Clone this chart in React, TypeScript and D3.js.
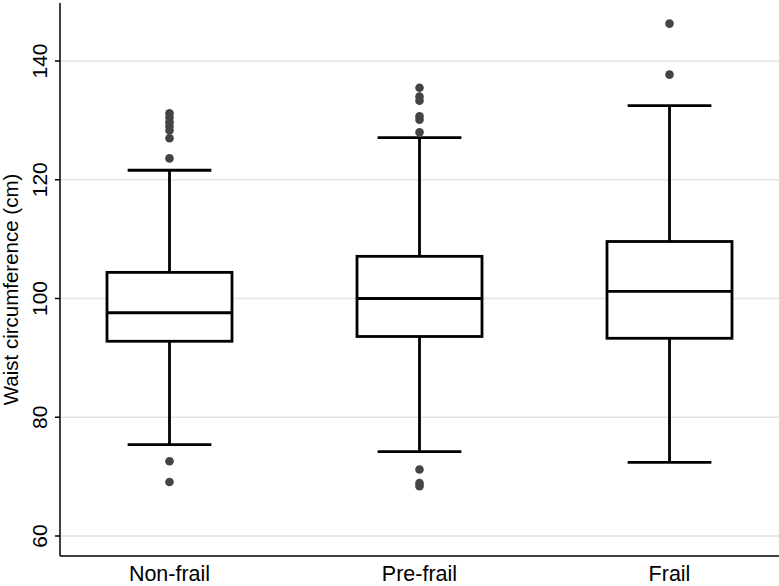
import React from "react";
import * as d3 from "d3";

const categories = ["Non-frail", "Pre-frail", "Frail"];
const lowerWhisker = [75.4, 74.2, 72.4];
const q1 = [92.8, 93.6, 93.3];
const medians = [97.6, 100.0, 101.2];
const q3 = [104.4, 107.1, 109.6];
const upperWhisker = [121.6, 127.1, 132.5];
const outliersNonFrail = [131.2, 130.5, 129.7, 129.0, 128.3, 127.0, 123.6, 72.6, 69.1];
const outliersPreFrail = [135.5, 134.0, 133.3, 130.7, 130.1, 128.0, 71.2, 68.9, 68.4];
const outliersFrail = [146.3, 137.7];
const yTicks = [60, 80, 100, 120, 140];
const yTitle = "Waist circumference (cm)";

const W = 779;
const H = 586;
const left = 60;
const right = 779;
const bottom = 556;
const top = 3;

export default function App() {
  const x = d3.scalePoint<string>().domain(categories).range([left, right]).padding(0.438);
  const step = x.step();
  const y = d3.scaleLinear().domain([60, 140]).range([536, 61]);
  const boxW = step * 0.5;
  const capW = step * 0.335;
  const outliers = [outliersNonFrail, outliersPreFrail, outliersFrail];
  const font = "'Liberation Sans', Arial, sans-serif";
  const sw = 2.8;

  return (
    <svg width={W} height={H} style={{ position: "absolute", left: 0, top: 0 }}>
      <rect width={W} height={H} fill="#fff" />
      {yTicks.map((t) => (
        <line key={"g" + t} x1={left} x2={right} y1={y(t)} y2={y(t)} stroke="#e3e3e3" strokeWidth={1.5} />
      ))}
      {categories.map((c, i) => {
        const cx = x(c)!;
        return (
          <g key={c}>
            <line x1={cx} x2={cx} y1={y(q3[i])} y2={y(upperWhisker[i])} stroke="#000" strokeWidth={sw} />
            <line x1={cx} x2={cx} y1={y(q1[i])} y2={y(lowerWhisker[i])} stroke="#000" strokeWidth={sw} />
            <line x1={cx - capW / 2} x2={cx + capW / 2} y1={y(upperWhisker[i])} y2={y(upperWhisker[i])} stroke="#000" strokeWidth={sw} />
            <line x1={cx - capW / 2} x2={cx + capW / 2} y1={y(lowerWhisker[i])} y2={y(lowerWhisker[i])} stroke="#000" strokeWidth={sw} />
            <rect x={cx - boxW / 2} y={y(q3[i])} width={boxW} height={y(q1[i]) - y(q3[i])} fill="#fff" stroke="#000" strokeWidth={sw} />
            <line x1={cx - boxW / 2} x2={cx + boxW / 2} y1={y(medians[i])} y2={y(medians[i])} stroke="#000" strokeWidth={sw} />
            {outliers[i].map((v, j) => (
              <circle key={j} cx={cx} cy={y(v)} r={4.3} fill="#444" />
            ))}
          </g>
        );
      })}
      <line x1={left} x2={left} y1={top} y2={bottom} stroke="#000" strokeWidth={1.5} />
      <line x1={left} x2={right} y1={bottom} y2={bottom} stroke="#000" strokeWidth={1.5} />
      {yTicks.map((t) => (
        <g key={"t" + t}>
          <line x1={left - 5} x2={left} y1={y(t)} y2={y(t)} stroke="#000" strokeWidth={1.5} />
          <text
            transform={`translate(${left - 13},${y(t)}) rotate(-90)`}
            textAnchor="middle"
            fontFamily={font}
            fontSize={21}
            fill="#000"
          >
            {t}
          </text>
        </g>
      ))}
      <text
        transform={`translate(18,${(top + bottom) / 2 + 10}) rotate(-90)`}
        textAnchor="middle"
        fontFamily={font}
        fontSize={20.5}
        fill="#000"
      >
        {yTitle}
      </text>
      {categories.map((c) => (
        <text key={"x" + c} x={x(c)!} y={581} textAnchor="middle" fontFamily={font} fontSize={21.5} fill="#000">
          {c}
        </text>
      ))}
    </svg>
  );
}
